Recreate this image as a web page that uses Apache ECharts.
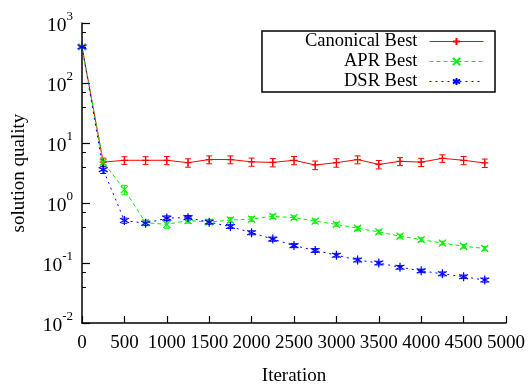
<!DOCTYPE html>
<html>
<head>
<meta charset="utf-8">
<script src="https://cdn.jsdelivr.net/npm/echarts@6/dist/echarts.min.js"></script>
<style>html,body{margin:0;padding:0;background:#fff}#c{width:529px;height:385px}</style>
</head>
<body>
<div id="c"></div>
<script>
var iterations = [0,250,500,750,1000,1250,1500,1750,2000,2250,2500,2750,3000,3250,3500,3750,4000,4250,4500,4750];
var canonicalBest = [400,4.8,5.15,5.15,5.15,4.7,5.3,5.3,4.85,4.75,5.15,4.3,4.7,5.3,4.4,4.95,4.8,5.55,5.15,4.65];
var canonicalErr  = [0,0.8,0.75,0.75,0.8,0.75,0.8,0.8,0.75,0.75,0.8,0.7,0.75,0.8,0.7,0.75,0.75,0.8,0.8,0.75];
var aprBest = [400,4.8,1.67,0.47,0.44,0.51,0.48,0.52,0.54,0.60,0.57,0.50,0.44,0.38,0.33,0.28,0.245,0.215,0.19,0.175];
var aprErr  = [0,0.4,0.3,0.05,0.06,0.05,0.04,0.05,0.05,0.05,0.04,0.04,0.03,0.03,0.025,0.02,0.018,0.015,0.013,0.012];
var dsrBest = [400,3.6,0.51,0.46,0.56,0.57,0.48,0.405,0.32,0.25,0.195,0.162,0.135,0.112,0.10,0.085,0.074,0.066,0.059,0.052];
var dsrErr  = [0,0.5,0.05,0.04,0.05,0.05,0.04,0.03,0.025,0.02,0.015,0.012,0.01,0.008,0.007,0.006,0.005,0.005,0.004,0.004];
var xTicks = [0,500,1000,1500,2000,2500,3000,3500,4000,4500,5000];

var FONT = "'Liberation Serif','DejaVu Serif','Times New Roman',serif";
var RED = '#ff0000', GREEN = '#00f000', BLUE = '#0000ff';

function pts(vals){ return iterations.map(function(x,i){ return [x, vals[i]]; }); }
function errPts(vals, errs){
  var out = [];
  iterations.forEach(function(x,i){ if (errs[i] > 0) out.push([x, vals[i]-errs[i], vals[i]+errs[i]]); });
  return out;
}
function errRenderer(color){
  return function(params, api){
    var x = api.value(0), lo = api.value(1), hi = api.value(2);
    var a = api.coord([x, hi]), b = api.coord([x, lo]);
    var w = 3;
    var st = {stroke: color, lineWidth: 1};
    return {type:'group', children:[
      {type:'line', shape:{x1:a[0], y1:a[1], x2:b[0], y2:b[1]}, style:st},
      {type:'line', shape:{x1:a[0]-w, y1:a[1], x2:a[0]+w, y2:a[1]}, style:st},
      {type:'line', shape:{x1:b[0]-w, y1:b[1], x2:b[0]+w, y2:b[1]}, style:st}
    ]};
  };
}

var PLUS = 'path://M0,-1L0,1M-1,0L1,0';
var CROSS = 'path://M-1,-1L1,1M-1,1L1,-1';
var STAR = 'path://M0,-1L0,1M-0.87,-0.5L0.87,0.5M-0.87,0.5L0.87,-0.5';

function lineSeries(name, vals, color, type, symbol, size){
  return {
    name: name, type: 'line', data: pts(vals),
    symbol: symbol, symbolSize: size, showSymbol: true,
    lineStyle: {color: color, width: 1, type: type},
    itemStyle: {color: color, borderColor: color, borderWidth: 1.2},
    animation: false, silent: true, z: 3
  };
}

var chart = echarts.init(document.getElementById('c'), null, {renderer:'canvas'});
chart.setOption({
  backgroundColor: '#fff',
  animation: false,
  grid: {left: 82, right: 23, top: 23, bottom: 62, containLabel: false, outerBoundsMode: 'none'},
  legend: {
    data: ['Canonical Best','APR Best','DSR Best'],
    orient: 'vertical', right: 34, top: 31,
    align: 'right', itemWidth: 54, itemHeight: 9, itemGap: 1,
    padding: [1, 11, 1, 43],
    borderColor: '#000', borderWidth: 1.5, borderRadius: 0,
    selectedMode: false,
    lineStyle: {width: 1},
    textStyle: {fontFamily: FONT, fontSize: 18.5, lineHeight: 18, color: '#000', padding: [0, 7, 0, 0]}
  },
  xAxis: {
    type: 'value', min: 0, max: 5000, interval: 500,
    name: 'Iteration', nameLocation: 'middle', nameGap: 44,
    nameTextStyle: {fontFamily: FONT, fontSize: 19, color: '#000'},
    axisLine: {show: true, lineStyle: {color: '#000', width: 1.5}},
    axisTick: {show: true, inside: true, length: 7, lineStyle: {color: '#000', width: 1.2}},
    axisLabel: {fontFamily: FONT, fontSize: 19, color: '#000', margin: 11,
      formatter: function(v){ return xTicks.indexOf(v) >= 0 ? String(v) : ''; }},
    splitLine: {show: false}
  },
  yAxis: {
    type: 'log', logBase: 10, min: 0.01, max: 1000,
    name: 'solution quality', nameLocation: 'middle', nameGap: 53, nameRotate: 90,
    nameTextStyle: {fontFamily: FONT, fontSize: 19, color: '#000'},
    axisLine: {show: true, lineStyle: {color: '#000', width: 1.5}},
    axisTick: {show: true, inside: true, length: 8, lineStyle: {color: '#000', width: 1.2}},
    minorTick: {show: true, splitNumber: 3, length: 4, lineStyle: {color: '#000', width: 1}},
    axisLabel: {
      margin: 9, color: '#000',
      formatter: function(v){ var e = Math.round(Math.log(v)/Math.LN10); return '{b|10}{s|' + e + '}'; },
      rich: {
        b: {fontFamily: FONT, fontSize: 19.5, color: '#000', lineHeight: 26, verticalAlign: 'bottom'},
        s: {fontFamily: FONT, fontSize: 13, color: '#000', lineHeight: 26, verticalAlign: 'top'}
      }
    },
    splitLine: {show: false}
  },
  series: [
    {type:'custom', data: errPts(canonicalBest, canonicalErr), renderItem: errRenderer(RED), z: 2, silent: true, encode:{x:0, y:[1,2]}},
    lineSeries('Canonical Best', canonicalBest, RED, 'solid', PLUS, 7),
    {type:'custom', data: errPts(aprBest, aprErr), renderItem: errRenderer(GREEN), z: 2, silent: true, encode:{x:0, y:[1,2]}},
    lineSeries('APR Best', aprBest, GREEN, [4,3], CROSS, 7),
    {type:'custom', data: errPts(dsrBest, dsrErr), renderItem: errRenderer(BLUE), z: 2, silent: true, encode:{x:0, y:[1,2]}},
    lineSeries('DSR Best', dsrBest, BLUE, [2,4], STAR, 9)
  ]
});
</script>
</body>
</html>
